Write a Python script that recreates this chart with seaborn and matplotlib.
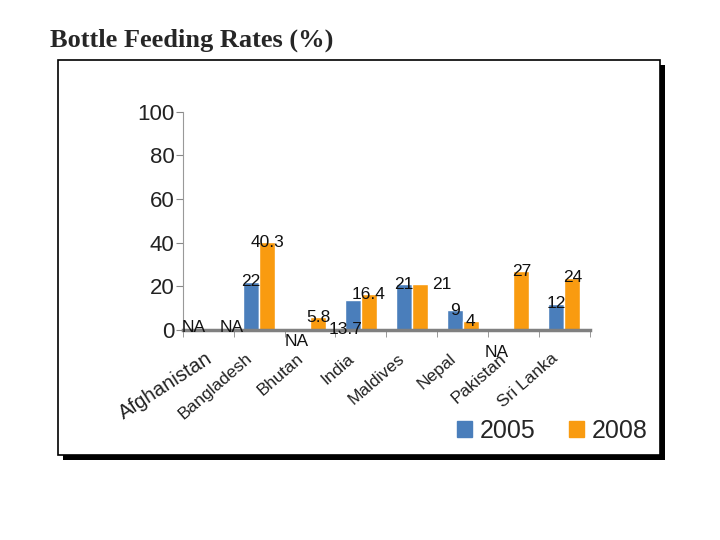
import numpy as np
import pandas as pd
import matplotlib.pyplot as plt
import matplotlib.transforms as mtransforms
import seaborn as sns
from matplotlib.patches import Rectangle

# Data (NaN = NA)
countries = ['Afghanistan', 'Bangladesh', 'Bhutan', 'India',
             'Maldives', 'Nepal', 'Pakistan', 'Sri Lanka']
rate_2005 = [np.nan, 22, np.nan, 13.7, 21, 9, np.nan, 12]
rate_2008 = [np.nan, 40.3, 5.8, 16.4, 21, 4, 27, 24]
labels_2005 = ['NA', '22', 'NA', '13.7', '21', '9', 'NA', '12']
labels_2008 = ['NA', '40.3', '5.8', '16.4', '21', '4', '27', '24']
years = ['2005', '2008']
colors = ['#4a7ebb', '#f99b10']

df = pd.DataFrame({
    'Country': countries * 2,
    'Year': [years[0]] * len(countries) + [years[1]] * len(countries),
    'Rate': rate_2005 + rate_2008,
})

sns.set_style('white')
plt.rcParams['font.family'] = ['Liberation Sans', 'DejaVu Sans']

fig = plt.figure(figsize=(7.2, 5.4), dpi=100)

# framed panel with drop shadow
fig.patches.append(Rectangle((0.0806 + 0.007, 0.157 - 0.009), 0.836, 0.731,
                             transform=fig.transFigure, facecolor='black',
                             edgecolor='none', zorder=-2))
fig.patches.append(Rectangle((0.0806, 0.157), 0.836, 0.731,
                             transform=fig.transFigure, facecolor='white',
                             edgecolor='black', linewidth=1.2, zorder=-1))

fig.text(0.069, 0.926, 'Bottle Feeding Rates (%)', fontsize=19,
         fontweight='bold', family='Liberation Serif', va='center', ha='left')

ax = fig.add_axes([0.254, 0.389, 0.565, 0.404])
ax.patch.set_alpha(0)
sns.barplot(data=df, x='Country', y='Rate', hue='Year', order=countries,
            hue_order=years, palette=colors, width=0.63, saturation=1,
            ax=ax, legend=False)

ax.set_ylim(0, 100)
ax.set_xlim(-0.5, len(countries) - 0.5)
ax.set_yticks(range(0, 101, 20))
ax.set_xlabel('')
ax.set_ylabel('')
ax.tick_params(axis='y', labelsize=16, length=5, color='#888888',
               direction='out', left=True, pad=1, labelcolor='#222222')
ax.set_xticks(np.arange(len(countries)))
ax.set_xticks(np.arange(-0.5, len(countries)), minor=True)
ax.tick_params(axis='x', which='major', length=0, pad=19)
ax.tick_params(axis='x', which='minor', length=5, color='#888888',
               direction='out', bottom=True)
ax.set_xticklabels(countries, ha='right', va='center', rotation_mode='anchor',
                   color='#222222')
for t in ax.get_xticklabels():
    if t.get_text() == 'Afghanistan':
        t.set_fontsize(14.6)
        t.set_rotation(33)
        dx = 2
    else:
        t.set_fontsize(12.5)
        t.set_rotation(41)
        dx = -9
    t.set_transform(t.get_transform() +
                    mtransforms.ScaledTranslation(dx / 100, 0, fig.dpi_scale_trans))

for side in ['top', 'right']:
    ax.spines[side].set_visible(False)
ax.spines['left'].set_color('#999999')
ax.spines['bottom'].set_color('#808080')
ax.spines['bottom'].set_linewidth(2.5)

# value labels; offsets in points
shift = 0.63 / 4
special = {
    (0, 0): (-5, 2), (0, 1): (11, 2), (2, 0): (-4, -8),
    (3, 0): (-5, 0), (4, 1): (16, 0), (6, 0): (-6, -16),
}
for j, (vals, labs) in enumerate([(rate_2005, labels_2005),
                                  (rate_2008, labels_2008)]):
    for i, (v, lab) in enumerate(zip(vals, labs)):
        x = i - shift if j == 0 else i + shift
        y = 0 if (np.isnan(v) or (i, j) == (3, 0)) else v
        dx, dy = special.get((i, j), (0, 0))
        ax.annotate(lab, (x, y), xytext=(dx, dy), textcoords='offset points',
                    ha='center', va='center', fontsize=12.5, color='#111111',
                    annotation_clip=False)

handles = [Rectangle((0, 0), 1, 1, color=c) for c in colors]
fig.legend(handles, years, loc='center', bbox_to_anchor=(0.767, 0.202),
           ncol=2, frameon=False, fontsize=18, handlelength=0.6,
           handleheight=0.6, handletextpad=0.3, columnspacing=1.37)

fig.savefig('out.png', dpi=100)
